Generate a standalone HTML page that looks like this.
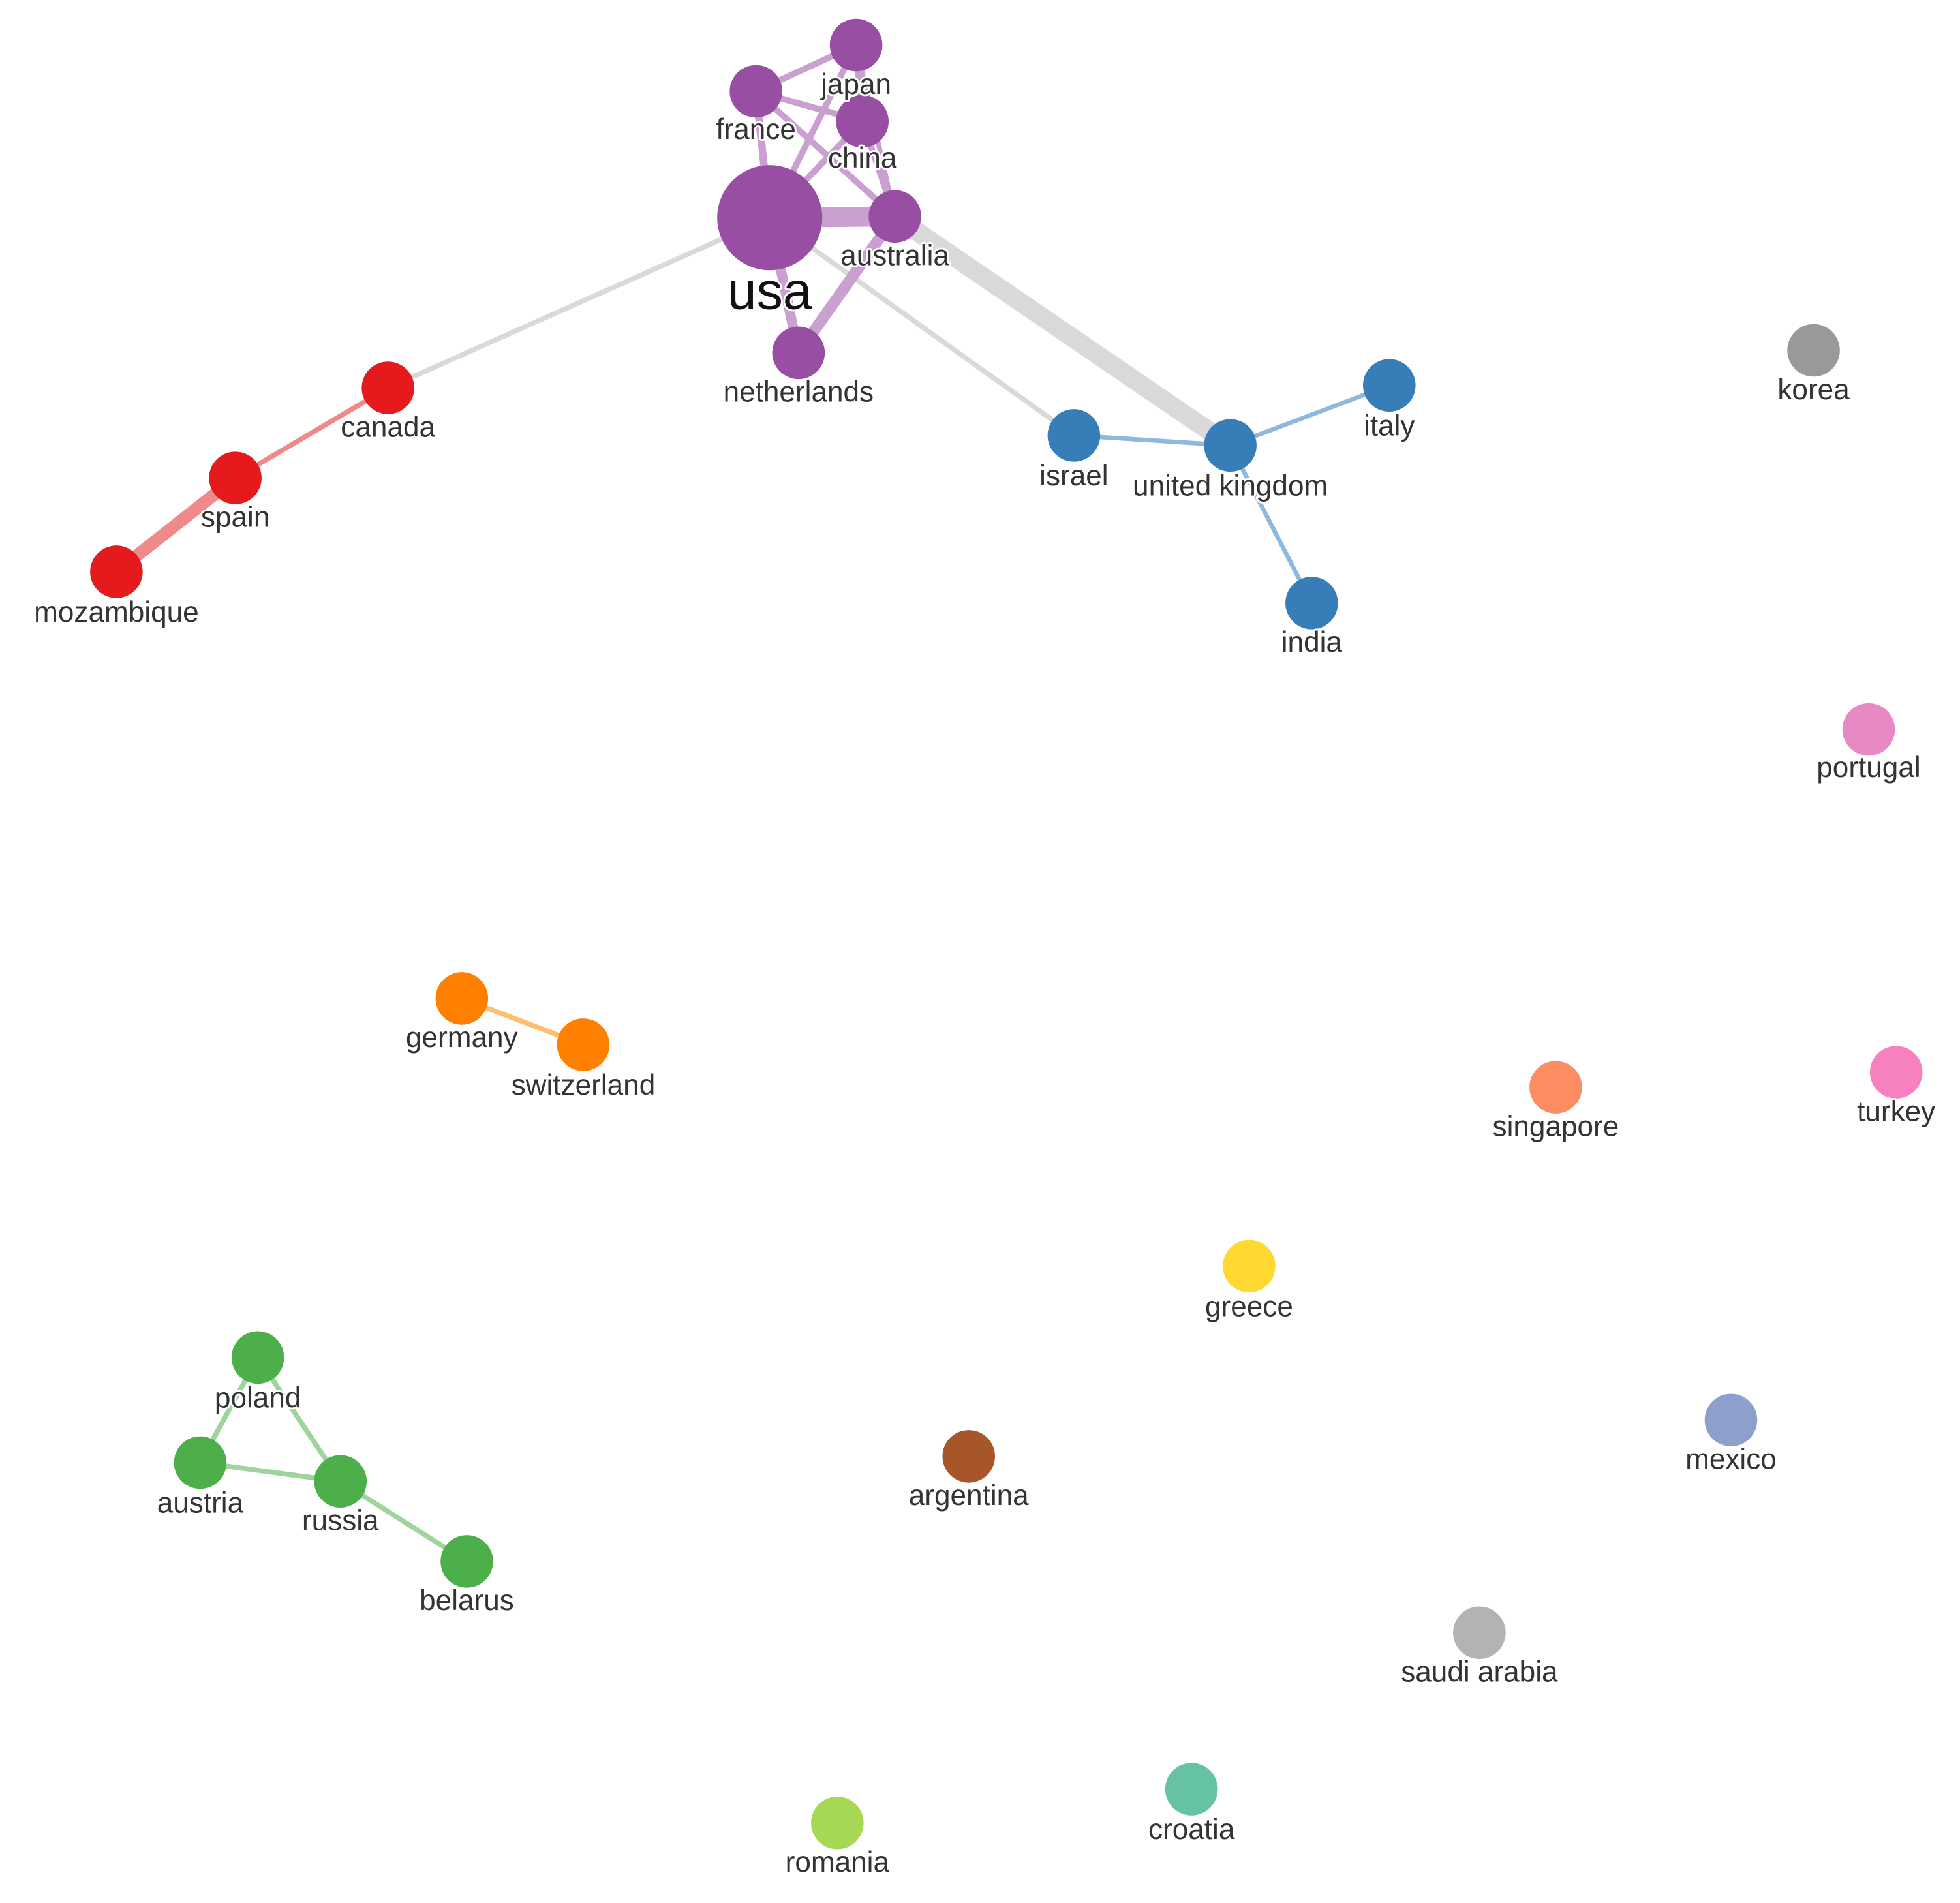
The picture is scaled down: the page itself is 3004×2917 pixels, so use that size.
<!DOCTYPE html>
<html><head><meta charset="utf-8"><style>
html,body{margin:0;padding:0;background:#fff;}
svg{display:block;}
text{font-family:"Liberation Sans",Arial,sans-serif;font-size:23px;fill:#333;text-anchor:middle;paint-order:stroke;stroke:#fff;stroke-width:3px;stroke-linejoin:round;}
</style></head><body>
<svg width="3004" height="2917" viewBox="0 0 1566 1521" preserveAspectRatio="none" xmlns="http://www.w3.org/2000/svg">
<rect width="1566" height="1521" fill="#fff"/>
<g stroke-linecap="butt" fill="none">
<line x1="615" y1="174" x2="310" y2="310" stroke="#d9d9d9" stroke-width="4"/>
<line x1="615" y1="174" x2="858" y2="348" stroke="#d9d9d9" stroke-width="4"/>
<line x1="715" y1="173" x2="983" y2="356" stroke="#d9d9d9" stroke-width="15"/>
<g stroke="#c9a0d0">
<line x1="615" y1="174" x2="715" y2="173" stroke-width="16"/>
<line x1="615" y1="174" x2="638" y2="282" stroke-width="8"/>
<line x1="715" y1="173" x2="638" y2="282" stroke-width="9"/>
<line x1="615" y1="174" x2="604" y2="73" stroke-width="6"/>
<line x1="615" y1="174" x2="684" y2="36" stroke-width="5"/>
<line x1="615" y1="174" x2="689" y2="97" stroke-width="5"/>
<line x1="604" y1="73" x2="684" y2="36" stroke-width="5"/>
<line x1="604" y1="73" x2="689" y2="97" stroke-width="5"/>
<line x1="604" y1="73" x2="715" y2="173" stroke-width="5"/>
<line x1="684" y1="36" x2="689" y2="97" stroke-width="5"/>
<line x1="684" y1="36" x2="715" y2="173" stroke-width="4"/>
<line x1="689" y1="97" x2="715" y2="173" stroke-width="5"/>
</g>
<line x1="310" y1="310" x2="188" y2="382" stroke="#f08a8a" stroke-width="4"/>
<line x1="188" y1="382" x2="93" y2="457" stroke="#f08a8a" stroke-width="10"/>
<g stroke="#8fb8dd" stroke-width="3.5">
<line x1="858" y1="348" x2="983" y2="356"/>
<line x1="983" y1="356" x2="1110" y2="308"/>
<line x1="983" y1="356" x2="1048" y2="482"/>
</g>
<line x1="369" y1="798" x2="466" y2="835" stroke="#fdbf6f" stroke-width="4"/>
<g stroke="#9fd49c" stroke-width="4">
<line x1="206" y1="1085" x2="160" y2="1169"/>
<line x1="206" y1="1085" x2="272" y2="1184"/>
<line x1="160" y1="1169" x2="272" y2="1184"/>
<line x1="272" y1="1184" x2="373" y2="1248"/>
</g>
</g>
<g>
<circle cx="684" cy="36" r="21" fill="#984ea3"/>
<circle cx="604" cy="73" r="21" fill="#984ea3"/>
<circle cx="689" cy="97" r="21" fill="#984ea3"/>
<circle cx="615" cy="174" r="42" fill="#984ea3"/>
<circle cx="715" cy="173" r="21" fill="#984ea3"/>
<circle cx="638" cy="282" r="21" fill="#984ea3"/>
<circle cx="310" cy="310" r="21" fill="#e41a1c"/>
<circle cx="188" cy="382" r="21" fill="#e41a1c"/>
<circle cx="93" cy="457" r="21" fill="#e41a1c"/>
<circle cx="858" cy="348" r="21" fill="#377eb8"/>
<circle cx="983" cy="356" r="21" fill="#377eb8"/>
<circle cx="1110" cy="308" r="21" fill="#377eb8"/>
<circle cx="1048" cy="482" r="21" fill="#377eb8"/>
<circle cx="1449" cy="280" r="21" fill="#999999"/>
<circle cx="1493" cy="583" r="21" fill="#e78ac3"/>
<circle cx="369" cy="798" r="21" fill="#ff7f00"/>
<circle cx="466" cy="835" r="21" fill="#ff7f00"/>
<circle cx="1243" cy="869" r="21" fill="#fc8d62"/>
<circle cx="1515" cy="857" r="21" fill="#f781bf"/>
<circle cx="998" cy="1012" r="21" fill="#ffd92f"/>
<circle cx="206" cy="1085" r="21" fill="#4daf4a"/>
<circle cx="160" cy="1169" r="21" fill="#4daf4a"/>
<circle cx="272" cy="1184" r="21" fill="#4daf4a"/>
<circle cx="373" cy="1248" r="21" fill="#4daf4a"/>
<circle cx="774" cy="1164" r="21" fill="#a65628"/>
<circle cx="1383" cy="1135" r="21" fill="#8da0cb"/>
<circle cx="1182" cy="1305" r="21" fill="#b3b3b3"/>
<circle cx="952" cy="1430" r="21" fill="#66c2a5"/>
<circle cx="669" cy="1457" r="21" fill="#a6d854"/>
</g>
<g>
<text x="684" y="75">japan</text>
<text x="604" y="111">france</text>
<text x="689" y="134">china</text>
<text x="615" y="247" style="font-size:42px;fill:#111">usa</text>
<text x="715" y="212">australia</text>
<text x="638" y="321">netherlands</text>
<text x="310" y="349">canada</text>
<text x="188" y="421">spain</text>
<text x="93" y="497">mozambique</text>
<text x="858" y="388">israel</text>
<text x="983" y="396">united kingdom</text>
<text x="1110" y="348">italy</text>
<text x="1048" y="521">india</text>
<text x="1449" y="319">korea</text>
<text x="1493" y="621">portugal</text>
<text x="369" y="837">germany</text>
<text x="466" y="875">switzerland</text>
<text x="1243" y="908">singapore</text>
<text x="1515" y="896">turkey</text>
<text x="998" y="1052">greece</text>
<text x="206" y="1125">poland</text>
<text x="160" y="1209">austria</text>
<text x="272" y="1223">russia</text>
<text x="373" y="1287">belarus</text>
<text x="774" y="1203">argentina</text>
<text x="1383" y="1174">mexico</text>
<text x="1182" y="1344">saudi arabia</text>
<text x="952" y="1470">croatia</text>
<text x="669" y="1496">romania</text>
</g>
</svg>
</body></html>
